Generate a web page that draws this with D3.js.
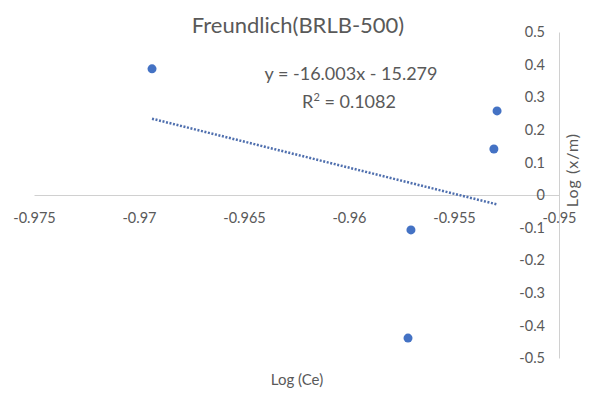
<!DOCTYPE html>
<html lang="en">
<head>
    <meta charset="utf-8">
    <title>Freundlich(BRLB-500)</title>
    <script src="https://d3js.org/d3.v7.min.js"></script>
    <style type="text/css">
        body
        {
            margin: 0;
            background-color: white;
        }
        svg text
        {
            font-family: Lato, "Open Sans", sans-serif;
            fill: #595959;
        }
        .axis path
        {
            stroke: #d0d0d0;
        }
    </style>
</head>
<body>
    <div id="chart_div"></div>
    <script>
    "use strict";
    // Log (Ce) vs Log (x/m)
    var logCe = [-0.96938, -0.95295, -0.95310, -0.95705, -0.95719];
    var logXm = [0.387, 0.258, 0.141, -0.107, -0.439];

    var xTicks = [-0.975, -0.97, -0.965, -0.96, -0.955, -0.95];
    var xTickLabels = ["-0.975", "-0.97", "-0.965", "-0.96", "-0.955", "-0.95"];
    var yTicks = [0.5, 0.4, 0.3, 0.2, 0.1, 0, -0.1, -0.2, -0.3, -0.4, -0.5];
    var yTickLabels = ["0.5", "0.4", "0.3", "0.2", "0.1", "0", "-0.1", "-0.2", "-0.3", "-0.4", "-0.5"];

    // trendline shown on the chart
    var slope = -16.003;
    var intercept = -15.279;
    var eqText = "y = -16.003x - 15.279";
    var r2Value = "0.1082";

    var svg_width = 590;
    var svg_height = 394;

    var svg = d3.select("#chart_div")
        .append("svg")
        .attr("width", svg_width)
        .attr("height", svg_height);

    var xscale = d3.scaleLinear()
        .domain([-0.975, -0.95])
        .range([34, 559]);
    var yscale = d3.scaleLinear()
        .domain([-0.5, 0.5])
        .range([358, 32]);

    // x axis sits on y = 0
    var xaxis = d3.axisBottom(xscale)
        .tickValues(xTicks)
        .tickFormat(function(d, i) { return xTickLabels[i]; })
        .tickSize(0)
        .tickPadding(18);
    var gx = svg.append("g")
        .attr("class", "axis")
        .attr("transform", "translate(0," + yscale(0) + ")")
        .call(xaxis);
    gx.select(".domain").attr("stroke", "#d0d0d0");
    gx.selectAll("text")
        .style("font-size", "14.5px")
        .attr("fill", "#595959");

    // y axis sits on x = -0.95
    var yaxis = d3.axisLeft(yscale)
        .tickValues(yTicks)
        .tickFormat(function(d, i) { return yTickLabels[i]; })
        .tickSize(0)
        .tickPadding(14);
    var gy = svg.append("g")
        .attr("class", "axis")
        .attr("transform", "translate(" + xscale(-0.95) + ",0)")
        .call(yaxis);
    gy.select(".domain").attr("stroke", "#d0d0d0");
    gy.selectAll("text")
        .style("font-size", "14.5px")
        .attr("fill", "#595959");

    // dotted linear trendline across the data range
    var xmin = d3.min(logCe);
    var xmax = d3.max(logCe);
    svg.append("line")
        .attr("x1", xscale(xmin))
        .attr("y1", yscale(slope * xmin + intercept))
        .attr("x2", xscale(xmax))
        .attr("y2", yscale(slope * xmax + intercept))
        .attr("stroke", "#4f6fae")
        .attr("stroke-width", 2.5)
        .attr("stroke-dasharray", "2,1.6");

    svg.selectAll("circle")
        .data(logCe)
        .enter()
        .append("circle")
        .attr("cx", function(d) { return xscale(d); })
        .attr("cy", function(d, i) { return yscale(logXm[i]); })
        .attr("r", 4.5)
        .attr("fill", "#4472c4");

    svg.append("text")
        .text("Freundlich(BRLB-500)")
        .attr("x", 298)
        .attr("y", 33)
        .style("text-anchor", "middle")
        .style("font-size", "22px");

    svg.append("text")
        .text(eqText)
        .attr("x", 351)
        .attr("y", 80)
        .style("text-anchor", "middle")
        .style("font-size", "18px");

    var r2 = svg.append("text")
        .attr("x", 349)
        .attr("y", 108)
        .style("text-anchor", "middle")
        .style("font-size", "18px");
    r2.append("tspan").text("R");
    r2.append("tspan").text("2").attr("dy", -7).style("font-size", "11px");
    r2.append("tspan").text(" = " + r2Value).attr("dy", 7);

    svg.append("text")
        .text("Log (Ce)")
        .attr("x", 297)
        .attr("y", 385)
        .style("text-anchor", "middle")
        .style("font-size", "15px");

    svg.append("text")
        .text("Log  (x/m)")
        .attr("transform", "translate(578,170) rotate(-90)")
        .style("text-anchor", "middle")
        .style("font-size", "16px")
        .style("letter-spacing", "1px");
    </script>
</body>
</html>
